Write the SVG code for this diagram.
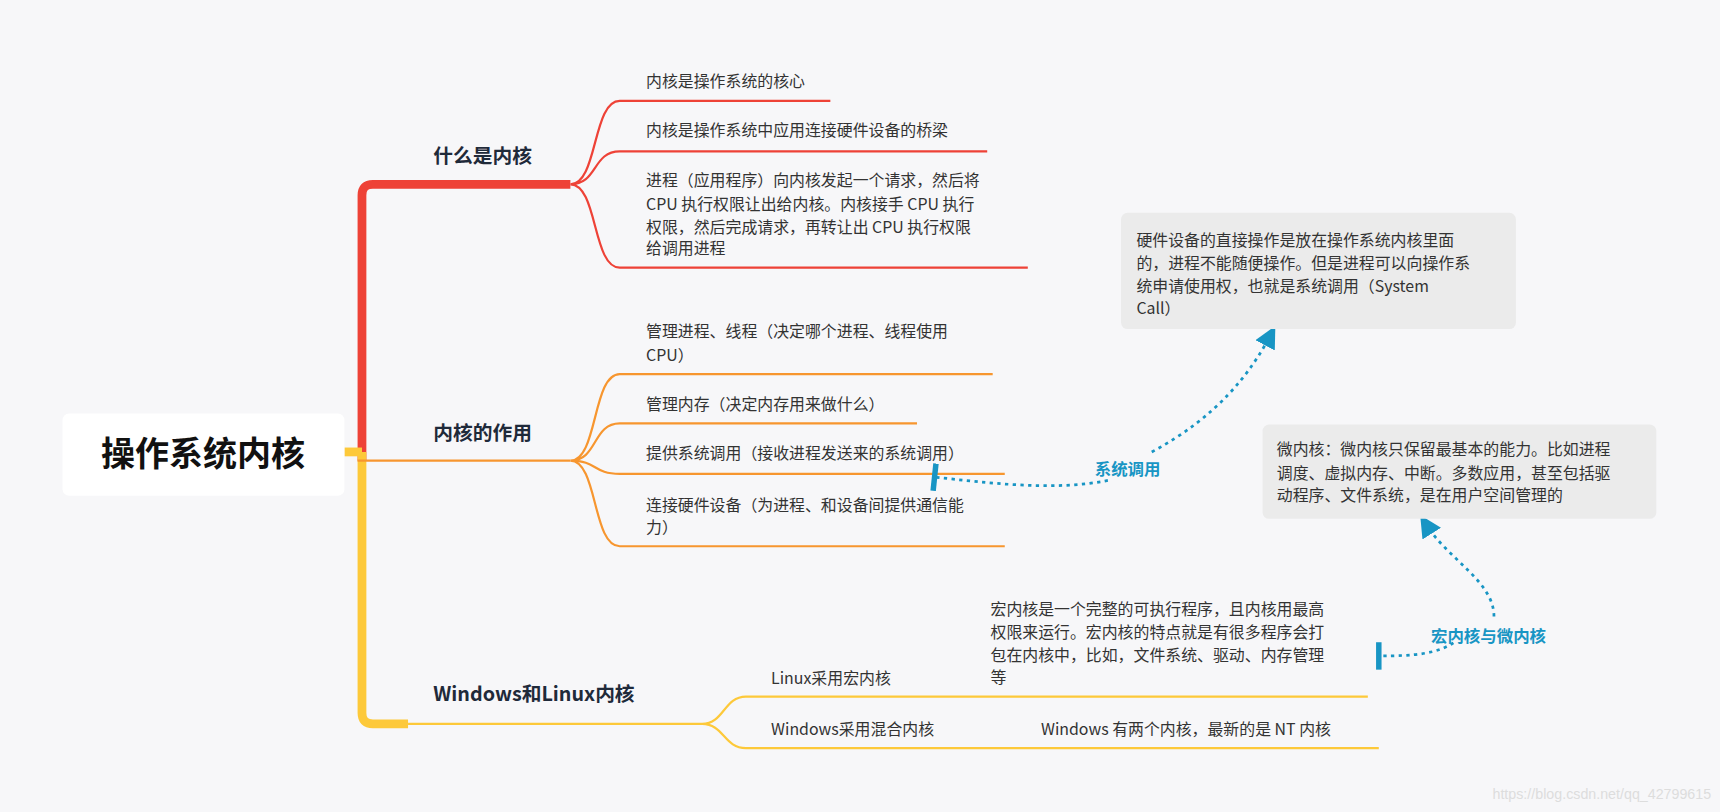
<svg xmlns="http://www.w3.org/2000/svg" width="1720" height="812" viewBox="0 0 1720 812">
<defs>
<style>
.t{font-family:"Noto Sans CJK SC","Noto Sans",sans-serif;font-size:14.5px;fill:#333}
.b{font-family:"Noto Sans CJK SC","Noto Sans",sans-serif;font-size:18px;font-weight:bold;fill:#1f2a3a}
.r{fill:none;stroke:#ee4237;stroke-width:2}
.o{fill:none;stroke:#f7962f;stroke-width:2}
.y{fill:none;stroke:#fdc93a;stroke-width:2}
.d{fill:none;stroke:#1895c4;stroke-width:2.5;stroke-dasharray:3 4}
.lb{font-family:"Noto Sans CJK SC",sans-serif;font-size:15px;font-weight:bold;fill:#1895c4}
.box{fill:#ebebeb}
</style>
<marker id="ar" markerWidth="8" markerHeight="8" refX="4" refY="4" orient="auto"><path d="M0,0 L8,4 L0,8 Z" fill="#1895c4"/></marker>
<marker id="bar" markerWidth="4" markerHeight="10" refX="2" refY="5" orient="auto"><rect x="1" y="0" width="2" height="10" fill="#1895c4"/></marker>
</defs>
<rect width="1720" height="812" fill="#f7f7f9"/>
<g transform="scale(1.0969)">
<g id="connectors">
<path d="M330,420 V178 Q330,168 340,168 H520" fill="none" stroke="#ee4237" stroke-width="8"/>
<path d="M330,412 V650 Q330,660 340,660 H372" fill="none" stroke="#fdc93a" stroke-width="8"/>
<path d="M314,412 H330" stroke="#fdc93a" stroke-width="8"/>
<path class="o" d="M326,420 H520"/>
<path class="y" d="M372,660 H640"/>
<path class="r" d="M520,168 C545,168 540,92 565,92 H757 M520,168 C545,168 540,138 565,138 H900 M520,168 C545,168 540,244 565,244 H937"/>
<path class="o" d="M520,420 C545,420 540,341 565,341 H905 M520,420 C545,420 540,386 565,386 H836 M520,420 C545,420 540,432 565,432 H916 M520,420 C545,420 540,498 565,498 H916"/>
<path class="y" d="M640,660 C660,660 660,635 680,635 H1247 M640,660 C660,660 660,682 680,682 H1257"/>
<path class="d" d="M1050,412 C1110,380 1140,340 1158,306" marker-end="url(#ar)"/>
<path class="d" d="M1010,438 C960,448 900,440 852,435" marker-end="url(#bar)"/>
<path class="d" d="M1362,562 C1362,530 1320,510 1300,478" marker-end="url(#ar)"/>
<path class="d" d="M1325,586 C1310,596 1290,598 1257,598" marker-end="url(#bar)"/>
</g>
<g id="root"><rect x="57" y="377" width="257" height="75" rx="6" fill="#fff"/><text x="185" y="425" text-anchor="middle" font-family="Noto Sans CJK SC,sans-serif" font-size="31" font-weight="bold" fill="#111">操作系统内核</text></g>
<g id="b1"><text class="b" x="395" y="149">什么是内核</text></g>
<g id="b2"><text class="b" x="395" y="401">内核的作用</text></g>
<g id="b3"><text class="b" x="395" y="639">Windows和Linux内核</text></g>
<g id="r1"><text class="t" x="589" y="79">内核是操作系统的核心</text></g>
<g id="r2"><text class="t" x="589" y="124">内核是操作系统中应用连接硬件设备的桥梁</text></g>
<g id="r3"><text class="t" x="589" y="170">进程（应用程序）向内核发起一个请求，然后将</text><text class="t" x="589" y="191">CPU 执行权限让出给内核。内核接手 CPU 执行</text><text class="t" x="589" y="212">权限，然后完成请求，再转让出 CPU 执行权限</text><text class="t" x="589" y="232">给调用进程</text></g>
<g id="o1"><text class="t" x="589" y="307">管理进程、线程（决定哪个进程、线程使用</text><text class="t" x="589" y="329">CPU）</text></g>
<g id="o2"><text class="t" x="589" y="374">管理内存（决定内存用来做什么）</text></g>
<g id="o3"><text class="t" x="589" y="418">提供系统调用（接收进程发送来的系统调用）</text></g>
<g id="o4"><text class="t" x="589" y="466">连接硬件设备（为进程、和设备间提供通信能</text><text class="t" x="589" y="486">力）</text></g>
<g id="y1"><text class="t" x="703" y="624">Linux采用宏内核</text></g>
<g id="y1a"><text class="t" x="903" y="561">宏内核是一个完整的可执行程序，且内核用最高</text><text class="t" x="903" y="582">权限来运行。宏内核的特点就是有很多程序会打</text><text class="t" x="903" y="603">包在内核中，比如，文件系统、驱动、内存管理</text><text class="t" x="903" y="623">等</text></g>
<g id="y2"><text class="t" x="703" y="670">Windows采用混合内核</text></g>
<g id="y2a"><text class="t" x="949" y="670">Windows 有两个内核，最新的是 NT 内核</text></g>
<g id="c1"><rect class="box" x="1022" y="194" width="360" height="106" rx="6"/><text class="t" x="1036" y="224">硬件设备的直接操作是放在操作系统内核里面</text><text class="t" x="1036" y="245">的，进程不能随便操作。但是进程可以向操作系</text><text class="t" x="1036" y="266">统申请使用权，也就是系统调用（System</text><text class="t" x="1036" y="286">Call）</text></g>
<g id="c2"><rect class="box" x="1151" y="387" width="359" height="86" rx="6"/><text class="t" x="1164" y="415">微内核：微内核只保留最基本的能力。比如进程</text><text class="t" x="1164" y="437">调度、虚拟内存、中断。多数应用，甚至包括驱</text><text class="t" x="1164" y="457">动程序、文件系统，是在用户空间管理的</text></g>
<g id="l1"><text class="lb" x="1028" y="433" text-anchor="middle">系统调用</text></g>
<g id="l2"><text class="lb" x="1357" y="585" text-anchor="middle">宏内核与微内核</text></g>
<text x="1560" y="728" text-anchor="end" font-family="Liberation Sans,sans-serif" font-size="13" fill="#ddd">https://blog.csdn.net/qq_42799615</text>
</g>
</svg>
